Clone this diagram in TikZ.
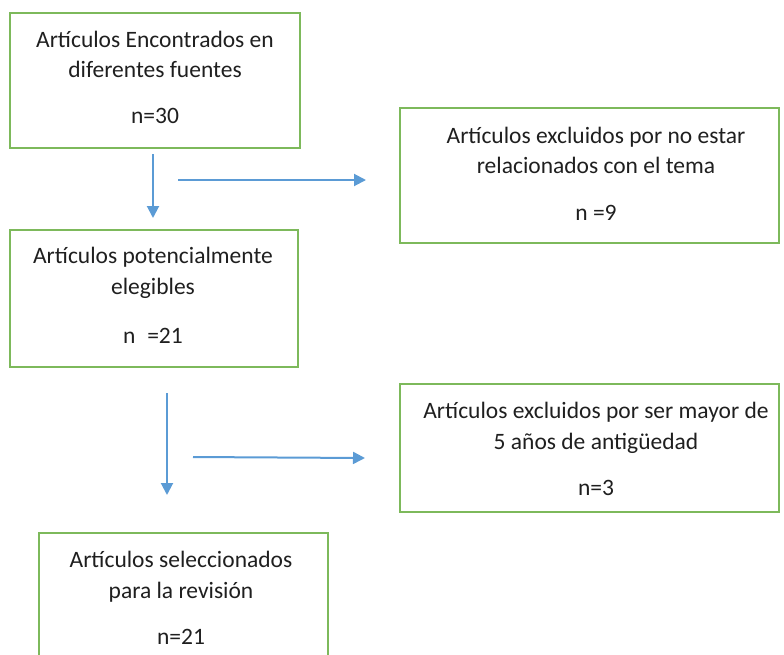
\documentclass[tikz,border=0pt]{standalone}
\usepackage{fontspec}
\setmainfont{Carlito}
\usetikzlibrary{arrows.meta}
\definecolor{boxgreen}{HTML}{7DB95B}
\definecolor{arrowblue}{HTML}{5B9BD5}
\begin{document}
\begin{tikzpicture}[x=1pt,y=1pt,
  box/.style={draw=boxgreen,line width=1.8pt,anchor=north west,inner sep=0pt,outer sep=0pt},
  txt/.style={anchor=base,inner sep=0pt,font=\fontsize{23.5}{28}\selectfont,text=black!88},
  arr/.style={draw=arrowblue,line width=2pt,-{Triangle[length=12pt,width=12pt]}}]
\useasboundingbox (0,0) rectangle (784,-654);
\clip (0,0) rectangle (784,-654);
% boxes
\node[box,minimum width=290pt,minimum height=135pt] (b1) at (10,-13) {};
\node[box,minimum width=379pt,minimum height=135pt] (b2) at (400,-108) {};
\node[box,minimum width=288pt,minimum height=137pt] (b3) at (10,-230) {};
\node[box,minimum width=379pt,minimum height=128pt] (b4) at (400,-384) {};
\node[box,minimum width=289pt,minimum height=140pt] (b5) at (39,-533) {};
% texts
\node[txt] (t1a) at (155,-47) {Artículos Encontrados en};
\node[txt] (t1b) at (155,-77) {diferentes fuentes};
\node[txt] (t1n) at (155,-123) {n=30};
\node[txt] (t2a) at (596,-143) {Artículos excluidos por no estar};
\node[txt] (t2b) at (596,-173) {relacionados con el tema};
\node[txt] (t2n) at (596,-220) {n =9};
\node[txt] (t3a) at (153,-263) {Artículos potencialmente};
\node[txt] (t3b) at (153,-294) {elegibles};
\node[txt] (t3n) at (153,-343) {n\hspace{0.5em}=21};
\node[txt] (t4a) at (596,-418) {Artículos excluidos por ser mayor de};
\node[txt] (t4b) at (596,-449) {5 años de antigüedad};
\node[txt] (t4n) at (596,-495) {n=3};
\node[txt] (t5a) at (181,-567) {Artículos seleccionados};
\node[txt] (t5b) at (181,-598) {para la revisión};
\node[txt] (t5n) at (181,-644) {n=21};
% arrow end points
\coordinate (a1s) at (153,-154);
\coordinate (a1e) at (153,-218);
\coordinate (h1s) at (178,-180);
\coordinate (h1e) at (366,-180);
\coordinate (a2s) at (167,-393);
\coordinate (a2e) at (167,-495);
\coordinate (h2s) at (193,-457);
\coordinate (h2e) at (365,-458);
\draw[arr] (a1s) -- (a1e);
\draw[arr] (h1s) -- (h1e);
\draw[arr] (a2s) -- (a2e);
\draw[arr] (h2s) -- (h2e);
\end{tikzpicture}
\end{document}
